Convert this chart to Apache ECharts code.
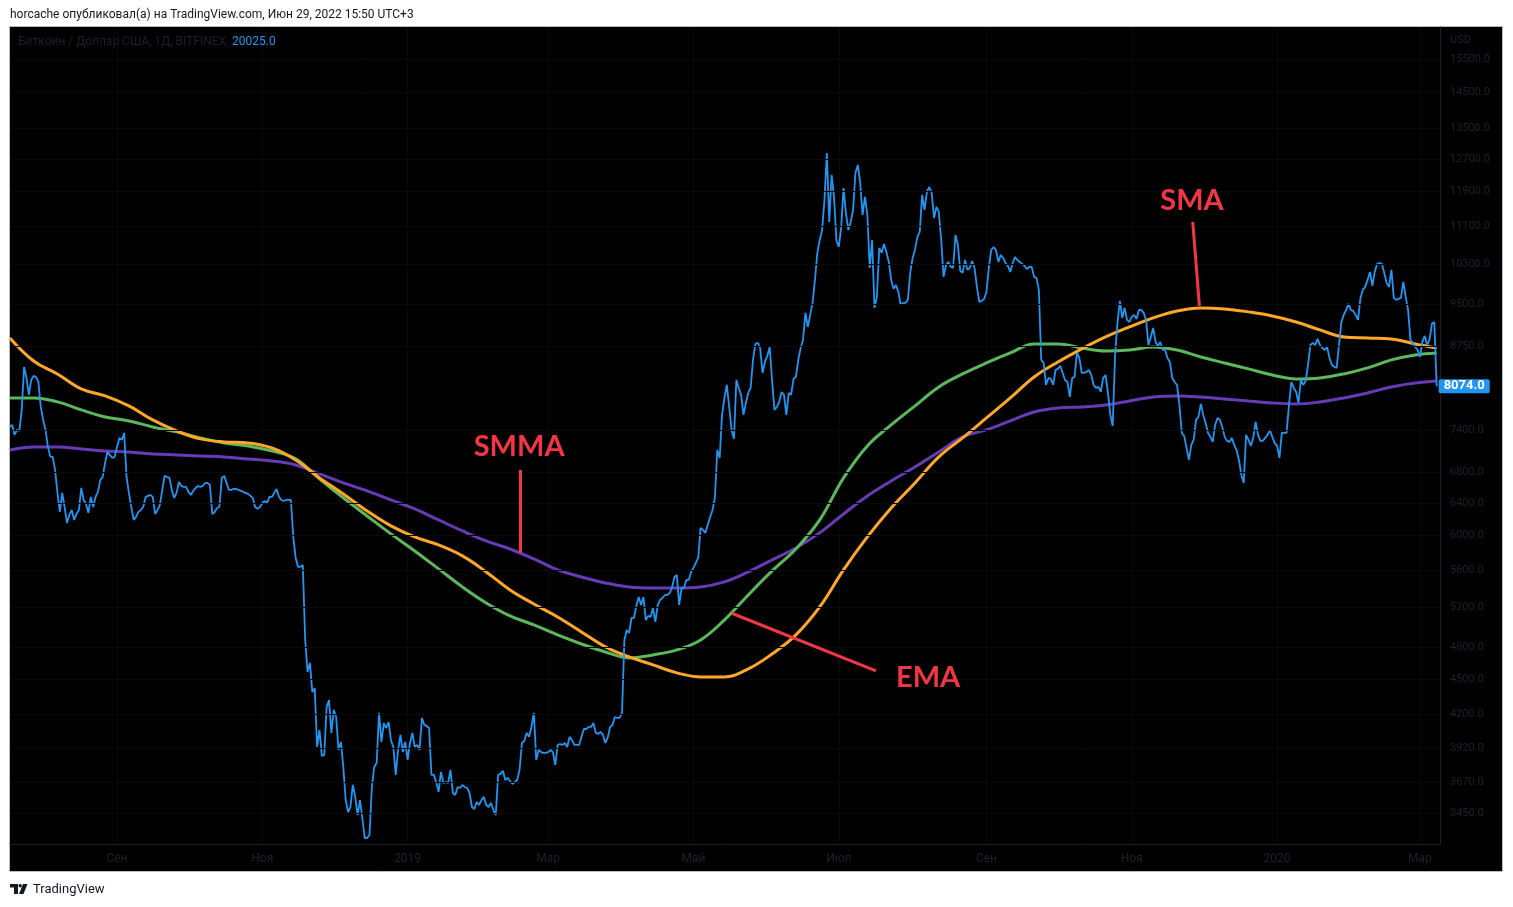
<!DOCTYPE html>
<html>
<head>
<meta charset="utf-8">
<script src="https://cdn.jsdelivr.net/npm/echarts@6/dist/echarts.min.js"></script>
<style>
html,body{margin:0;padding:0;background:#ffffff;}
#chart{width:1513px;height:907px;}
</style>
</head>
<body>
<div id="chart"></div>
<script>
// ---------------- DATA ----------------
// Daily close, BTC/USD (Bitfinex), one value per day starting at startDate
const startDate = '2018-07-18';
const priceClose = [
  // Jul 18 2018 ...
  7444, 7474, 7327, 7400, 7385, 7701, 8390, 8208, 7935, 8175,
  8241, 8224, 8142, 7747, 7549, 7400, 7154, 7013, 7013, 6833,
  6527, 6284, 6527, 6347, 6148, 6247, 6309, 6185, 6259, 6309,
  6592, 6436, 6385, 6271, 6475, 6347, 6475, 6540, 6698, 6738,
  6928, 7083, 7041, 6999, 7013, 7154, 7283, 7254, 7356, 6738,
  6527, 6347, 6185, 6222, 6284, 6309, 6347, 6475, 6488, 6501,
  6475, 6259, 6309, 6372, 6566, 6752, 6738, 6725, 6566, 6462,
  6527, 6671, 6618, 6605, 6605, 6540, 6501, 6553, 6592, 6618,
  6605, 6618, 6658, 6658, 6632, 6259, 6284, 6334, 6347, 6725,
  6752, 6658, 6566, 6566, 6579, 6579, 6566, 6553, 6540, 6527,
  6514, 6488, 6462, 6347, 6322, 6347, 6398, 6423, 6398, 6475,
  6475, 6527, 6579, 6475, 6436, 6423, 6436, 6436, 6436,
  // Nov 14 2018 ...
  5979, 5734, 5632, 5632, 5654, 4869, 4569, 4651, 4389, 4425,
  3934, 4070, 3864, 3871, 4260, 4320, 4046, 4235, 4176, 3910,
  3973, 3780, 3539, 3455, 3490, 3647, 3561, 3435, 3539, 3414,
  3281, 3281, 3301, 3632, 3780, 3810, 4210, 3973, 4126, 4085,
  4134, 3989, 3934, 3721, 3910, 4030, 3894, 3973, 3833, 3965,
  4046, 3934, 3950, 3910, 4168, 4110, 4102, 4085, 3721, 3721,
  3668, 3597, 3743, 3661, 3668,
  // Jan 18 2019 ...
  3661, 3758, 3589, 3575, 3632, 3625, 3647, 3632, 3625, 3589,
  3490, 3476, 3525, 3504, 3539, 3561, 3504, 3490, 3518, 3469,
  3435, 3721, 3728, 3751, 3683, 3699, 3676, 3654, 3668, 3683,
  3758, 3965, 3981, 4046, 4014, 4094, 4210, 3833, 3910, 3894,
  3887, 3887, 3894, 3910, 3894, 3795, 3950, 3957, 3950, 3965,
  3934, 4014, 3989, 3950, 3950, 3950, 4014, 4077, 4077, 4094,
  4094, 4126, 4046, 4038, 4054, 4030, 3965, 4006, 4094, 4110,
  4176, 4168, 4168, 4210, 4869, 4967, 4937, 5087, 5087, 5210, 5304,
  // Apr 9 2019 ...
  5221, 5304, 5067, 5108, 5097, 5190, 5047, 5221, 5273, 5294,
  5326, 5326, 5347, 5401, 5520, 5543, 5221, 5401, 5401, 5488,
  5488, 5576, 5621, 5677, 5734, 6087, 6063, 6027, 6124, 6222,
  6309, 6462, 7111, 6999, 7625, 7887, 8094, 7747, 7400, 7269,
  8175, 8046, 7935, 7625, 7809, 7966, 8046, 8508, 8784, 8801,
  8714, 8290, 8474, 8576, 8731, 8175, 7701, 7747, 7825, 7982,
  7935, 7625, 7966, 7935, 8192, 8224, 8508, 8714, 8854, 9344,
  9086, 9307, 9532, 9979, 10530, 10807, 11024, 11703, 12852, 11201,
  // Jun 28 2019 ...
  12301, 11774, 10807, 10657, 11068, 11986, 11404, 11024, 11201, 11472,
  12350, 12548, 12106, 11358, 11774, 11358, 10220, 10807, 9437, 9647,
  10636, 10530, 10721, 10551, 10343, 9979, 9802, 9880, 9743, 9494,
  9532, 9532, 9589, 10119, 10425, 10593, 10871, 10980, 11821, 11472,
  11891, 12010, 11868, 11291, 11541, 11426, 10807, 10039, 10281, 10343,
  10240, 10220, 10915, 10700, 10160, 10119, 10384, 10180, 10220, 10363,
  10220, 9841, 9551, 9570, 9608, 9743, 10220, 10593, 10657, 10593,
  10343, 10488, 10425, 10322, 10261, 10139, 10322, 10446, 10384, 10343,
  10302, 10261, 10199, 10240, 10240, 10039, 10019, 9782, 8508, 8457,
  8094, 8208, 8192, 8094, 8340, 8357, 8407, 8290, 8175, 8142,
  7903, 8208, 8224, 8627, 8542, 8290, 8290, 8307, 8340, 8257,
  8094, 8046, 8062, 7982, 8208, 8257, 7966, 7625, 7459, 8593, 9159,
  // Oct 27 2019 ...
  9570, 9251, 9437, 9214, 9177, 9270, 9307, 9233, 9400, 9400,
  9344, 9214, 8766, 8907, 9068, 8819, 8749, 8819, 8679, 8679,
  8542, 8474, 8208, 8142, 8094, 7778, 7356, 7312, 7139, 6970,
  7182, 7254, 7549, 7594, 7794, 7625, 7504, 7356, 7298, 7225,
  7474, 7579, 7549, 7444, 7298, 7240, 7225, 7283, 7182, 7111,
  6970, 6765, 6658, 7327, 7254, 7168, 7283, 7519, 7327, 7240,
  7240, 7283, 7327, 7400, 7298, 7211, 7168, 6999, 7356, 7356,
  7356, 7778, 8142, 8046, 7982, 7809, 8175, 8094, 8159, 8424,
  8766, 8801, 8766, 8872, 8766, 8714, 8679, 8731, 8542, 8424,
  8390, 8374, 8766, 9177, 9307, 9400, 9513, 9400, 9381, 9307,
  9214, 9627, 9782, 9841, 9979, 10139, 9860, 10139, 10302, 10322,
  10302, 10119, 9920, 9841, 10180, 9627, 9589, 9608, 9627, 9939,
  9647, 9400, 8854, 8801, 8731, 8679, 8559, 8819, 8925, 8766,
  8854, 9141, 9177, 8074
];

// Moving averages (day index from startDate)
const maDays = [0,10,20,30,40,50,60,70,80,90,100,110,120,130,140,150,160,170,180,190,
  200,210,220,230,240,250,260,270,280,290,300,310,320,330,340,350,360,370,380,390,
  400,410,420,430,440,450,460,470,480,490,500,510,520,530,540,550,560,570,580,590,599];
const smaValues = [
  8889, 8491, 8274, 8030, 7919, 7763, 7549, 7385, 7269, 7225,
  7211, 7139, 6970, 6725, 6514, 6296, 6112, 5979, 5884, 5757,
  5576, 5379, 5231, 5097, 4947, 4802, 4707, 4633, 4560, 4523,
  4523, 4596, 4735, 4918, 5200, 5598, 5979, 6334, 6658, 7013,
  7283, 7579, 7887, 8224, 8474, 8697, 8907, 9086, 9251, 9381,
  9437, 9419, 9363, 9288, 9177, 9032, 8907, 8889, 8872, 8784,
  8714
];
const emaValues = [
  7887, 7887, 7825, 7701, 7594, 7534, 7444, 7371, 7283, 7211,
  7168, 7097, 6985, 6712, 6462, 6234, 6015, 5814, 5610, 5412,
  5242, 5108, 5017, 4918, 4830, 4754, 4698, 4726, 4773, 4869,
  5067, 5326, 5587, 5837, 6185, 6725, 7168, 7474, 7763, 8062,
  8274, 8457, 8627, 8784, 8784, 8714, 8662, 8679, 8731, 8679,
  8559, 8457, 8357, 8257, 8192, 8208, 8274, 8374, 8508, 8593,
  8627
];
const smmaValues = [
  7111, 7154, 7154, 7125, 7097, 7083, 7055, 7041, 7027, 7013,
  6985, 6956, 6901, 6779, 6658, 6553, 6436, 6322, 6185, 6051,
  5931, 5837, 5722, 5598, 5520, 5455, 5412, 5401, 5401, 5412,
  5466, 5576, 5711, 5849, 6027, 6259, 6488, 6685, 6873, 7083,
  7298, 7400, 7534, 7670, 7732, 7747, 7778, 7840, 7903, 7919,
  7903, 7872, 7840, 7809, 7794, 7825, 7887, 7966, 8062, 8126,
  8159
];

// Axis tick labels
const yTickValues = [15500, 14500, 13500, 12700, 11900, 11100, 10300, 9500, 8750,
  7400, 6800, 6400, 6000, 5600, 5200, 4800, 4500, 4200, 3920, 3670, 3450];
const xLabelDates = ['2018-09-01','2018-11-01','2019-01-01','2019-03-01','2019-05-01',
  '2019-07-01','2019-09-01','2019-11-01','2020-01-01','2020-03-01'];
const xLabelNames = ['Сен','Ноя','2019','Мар','Май','Июл','Сен','Ноя','2020','Мар'];

// ---------------- CHART ----------------
const DAY = 86400000;
const dayIndex = s => Math.round((Date.parse(s) - Date.parse(startDate)) / DAY);
const xLabelDays = xLabelDates.map(dayIndex);

const FONT = 'Roboto, "Liberation Sans", sans-serif';
const DIM = '#1f222b';
const RED = '#f23645';
const GRIDC = '#08090c';

const chart = echarts.init(document.getElementById('chart'), null, {renderer: 'canvas', width: 1513, height: 907});

const annoLabel = {
  show: true, position: 'inside', formatter: '{b}', color: RED,
  fontSize: 29, fontWeight: 'bold', fontFamily: 'Lato, "Open Sans", sans-serif'
};

const option = {
  animation: false,
  backgroundColor: '#ffffff',
  tooltip: {show: false},
  grid: {left: 10, top: 27, width: 1430, height: 817},
  xAxis: {
    type: 'value', min: 0.08, max: 600.4,
    axisLine: {show: true, lineStyle: {color: '#1c1e25', width: 1}},
    axisTick: {show: false, customValues: xLabelDays},
    axisLabel: {
      customValues: xLabelDays,
      formatter: v => { const i = xLabelDays.indexOf(Math.round(v)); return i >= 0 ? xLabelNames[i] : ''; },
      color: DIM, fontSize: 12, fontFamily: FONT, margin: 9
    },
    splitLine: {show: true, lineStyle: {color: GRIDC, width: 1}}
  },
  yAxis: {
    type: 'log', logBase: 10, min: 3242, max: 16520, position: 'right',
    axisLine: {show: true, onZero: false, lineStyle: {color: '#1c1e25', width: 1}},
    axisTick: {show: false}, axisLabel: {show: false}, splitLine: {show: false}
  },
  graphic: [
    {type: 'rect', z: -10, silent: true, shape: {x: 9.5, y: 26.5, width: 1493, height: 845},
     style: {fill: '#000000', stroke: '#b8bbc4', lineWidth: 1}},
    {type: 'text', z: 100, left: 10, top: 9, silent: true,
     style: {text: 'horcache опубликовал(а) на TradingView.com, Июн 29, 2022 15:50 UTC+3', fill: '#131722', font: '12px ' + FONT}},
    {type: 'text', z: 100, left: 18, top: 36, silent: true,
     style: {text: 'Биткоин / Доллар США, 1Д, BITFINEX', fill: '#1d2029', font: '12px ' + FONT}},
    {type: 'text', z: 100, left: 232, top: 36, silent: true,
     style: {text: '20025.0', fill: '#2196f3', font: '12px ' + FONT}},
    {type: 'text', z: 100, left: 1450, top: 35, silent: true,
     style: {text: 'USD', fill: DIM, font: '11px ' + FONT}},
    // TradingView footer logo
    {type: 'polygon', z: 100, silent: true,
     shape: {points: [[10, 884], [18, 884], [18, 894], [14, 894], [14, 887.5], [10, 887.5]]}, style: {fill: '#131722'}},
    {type: 'circle', z: 100, silent: true, shape: {cx: 20.2, cy: 885.8, r: 1.7}, style: {fill: '#131722'}},
    {type: 'polygon', z: 100, silent: true,
     shape: {points: [[23, 884], [27.5, 884], [23.5, 894], [19, 894]]}, style: {fill: '#131722'}},
    {type: 'text', z: 100, left: 33, top: 883, silent: true,
     style: {text: 'TradingView', fill: '#131722', font: '13px ' + FONT}}
  ],
  series: [
    {
      name: 'SMMA', type: 'line', symbol: 'none', smooth: 0.4, silent: true,
      data: maDays.map((d, i) => [d, smmaValues[i]]),
      lineStyle: {color: '#673ab7', width: 3},
      markLine: {
        silent: true, symbol: ['none', 'none'],
        lineStyle: {color: GRIDC, width: 1, type: 'solid'},
        label: {show: true, position: 'end', distance: 10, color: DIM, fontSize: 11, fontFamily: FONT,
                formatter: p => Number(p.value).toFixed(1)},
        emphasis: {disabled: true},
        data: yTickValues.map(v => ({yAxis: v}))
      }
    },
    {
      name: 'EMA', type: 'line', symbol: 'none', smooth: 0.4, silent: true,
      data: maDays.map((d, i) => [d, emaValues[i]]),
      lineStyle: {color: '#5cb85c', width: 3}
    },
    {
      name: 'SMA', type: 'line', symbol: 'none', smooth: 0.4, silent: true,
      data: maDays.map((d, i) => [d, smaValues[i]]),
      lineStyle: {color: '#ffa726', width: 3}
    },
    {
      name: 'BTCUSD', type: 'line', symbol: 'none', silent: true,
      data: priceClose.map((v, i) => [i, v]),
      lineStyle: {color: '#2196f3', width: 1.8},
      endLabel: {
        show: true, formatter: p => Number(p.value[1]).toFixed(1), distance: 2,
        color: '#ffffff', backgroundColor: '#2196f3', fontWeight: 'bold', fontSize: 13,
        fontFamily: FONT, padding: [1, 5, 0, 5], borderRadius: 2
      },
      markLine: {
        silent: true, symbol: ['none', 'none'],
        lineStyle: {color: RED, width: 3, type: 'solid'},
        label: {show: false}, emphasis: {disabled: true},
        data: [
          [{coord: [214.2, 6833]}, {coord: [214.2, 5791]}],
          [{coord: [303.1, 5135]}, {coord: [363.6, 4578]}],
          [{coord: [496.6, 11201]}, {coord: [499.4, 9475]}]
        ]
      },
      markPoint: {
        silent: true, symbol: 'circle', symbolSize: 1,
        itemStyle: {color: 'rgba(0,0,0,0)'}, label: annoLabel,
        data: [
          {name: 'SMMA', coord: [213.8, 7154]},
          {name: 'EMA', coord: [385.5, 4519]},
          {name: 'SMA', coord: [496.3, 11691]}
        ]
      }
    }
  ]
};
chart.setOption(option);
</script>
</body>
</html>
